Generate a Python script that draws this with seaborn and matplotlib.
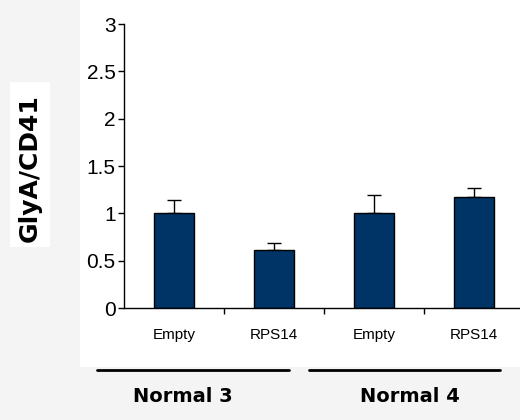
import matplotlib
matplotlib.use('Agg')
import matplotlib.pyplot as plt
import seaborn as sns
import pandas as pd
from matplotlib.patches import Rectangle
from matplotlib.lines import Line2D

# chart values
conditions = ['Empty', 'RPS14', 'Empty', 'RPS14']
groups = ['Normal 3', 'Normal 4']
ratio = [1.0, 0.61, 1.0, 1.17]
ratio_err = [0.14, 0.08, 0.19, 0.10]

df = pd.DataFrame({
    'slot': [f'{groups[i // 2]} {c}' for i, c in enumerate(conditions)],
    'ratio': ratio,
})

sns.set_style('white')
plt.rcParams['font.family'] = ['Liberation Sans', 'DejaVu Sans']
plt.rcParams['text.color'] = 'black'

fig = plt.figure(figsize=(5.2, 4.2), dpi=100)
fig.patch.set_facecolor('#f4f4f4')
# white panel behind plot and y label
fig.patches.append(Rectangle((80 / 520, 1 - 367 / 420), 440 / 520, 367 / 420,
                             transform=fig.transFigure, facecolor='white',
                             edgecolor='none', zorder=-2))
fig.patches.append(Rectangle((10 / 520, 1 - 247 / 420), 40 / 520, 165 / 420,
                             transform=fig.transFigure, facecolor='white',
                             edgecolor='none', zorder=-2))

ax = fig.add_axes([124 / 520, 112 / 420, 396 / 520, 284 / 420])
ax.set_facecolor('none')

sns.barplot(data=df, x='slot', y='ratio', color='#003366', saturation=1,
            width=0.4, edgecolor='black', linewidth=1, ax=ax, zorder=2)
ax.errorbar(range(len(ratio)), ratio, yerr=[[0] * len(ratio), ratio_err],
            fmt='none', ecolor='black', elinewidth=1, capsize=5, capthick=1,
            zorder=1)

ax.set_xlim(-0.5, 3.46)
ax.set_ylim(0, 3)
ax.set_yticks([0, 0.5, 1, 1.5, 2, 2.5, 3])
ax.set_yticklabels(['0', '0.5', '1', '1.5', '2', '2.5', '3'], fontsize=15)
ax.set_xticks([0.5, 1.5, 2.5])
ax.set_xticklabels([])
ax.tick_params(axis='both', direction='out', length=4, width=1, colors='black',
               left=True, bottom=True, pad=2)
for i, c in enumerate(conditions):
    ax.text(i, -0.28, c, ha='center', va='center', fontsize=11, color='black',
            family=['Liberation Sans Narrow', 'Liberation Sans'])

for side in ['top', 'right']:
    ax.spines[side].set_visible(False)
for side in ['left', 'bottom']:
    ax.spines[side].set_color('black')
    ax.spines[side].set_linewidth(1)
ax.set_xlabel('')
ax.set_ylabel('')

fig.text(30 / 520, 1 - 168 / 420, 'GlyA/CD41', rotation=90, ha='center',
         va='center', fontsize=18, fontweight='bold', family='DejaVu Sans')

# group brackets
fig.lines.append(Line2D([97 / 520, 289 / 520], [1 - 370 / 420] * 2,
                        transform=fig.transFigure, color='black', lw=2))
fig.lines.append(Line2D([309 / 520, 500 / 520], [1 - 370 / 420] * 2,
                        transform=fig.transFigure, color='black', lw=2))
fig.text(183 / 520, 1 - 396 / 420, groups[0], ha='center', va='center',
         fontsize=14, fontweight='bold', family='DejaVu Sans')
fig.text(410 / 520, 1 - 396 / 420, groups[1], ha='center', va='center',
         fontsize=14, fontweight='bold', family='DejaVu Sans')

fig.savefig('out.png', dpi=100, facecolor=fig.get_facecolor())
